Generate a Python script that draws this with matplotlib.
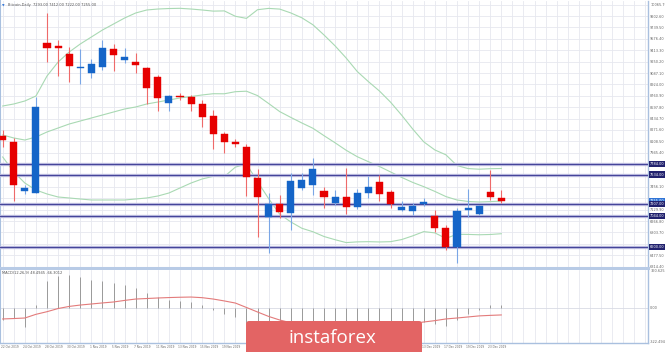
import matplotlib
matplotlib.use("Agg")
import matplotlib.pyplot as plt
import matplotlib.transforms as mtransforms
from matplotlib.patches import FancyBboxPatch
import numpy as np

# ---------------- data ----------------
title = "Bitcoin,Daily  7293.00 7412.00 7222.00 7255.00"
macd_title = "MACD(12,26,9) 48.4945 -66.3012"

dates = ["21 Oct", "22 Oct 2019", "23 Oct", "24 Oct 2019", "25 Oct", "28 Oct 2019", "29 Oct",
         "30 Oct 2019", "31 Oct", "1 Nov 2019", "4 Nov", "5 Nov 2019", "6 Nov", "7 Nov 2019",
         "8 Nov", "11 Nov 2019", "12 Nov", "13 Nov 2019", "14 Nov", "15 Nov 2019", "18 Nov",
         "19 Nov 2019", "20 Nov", "21 Nov 2019", "22 Nov", "25 Nov 2019", "26 Nov",
         "27 Nov 2019", "28 Nov", "29 Nov 2019", "2 Dec", "3 Dec 2019", "4 Dec", "5 Dec 2019",
         "6 Dec", "9 Dec 2019", "10 Dec", "11 Dec 2019", "12 Dec", "13 Dec 2019", "16 Dec",
         "17 Dec 2019", "18 Dec", "19 Dec 2019", "20 Dec", "23 Dec 2019"]

opens = [8185, 8104, 7402, 7369, 9522, 9479, 9355, 9155, 9092, 9178, 9431, 9278, 9250, 9164,
         9035, 8662, 8763, 8740, 8644, 8472, 8210, 8104, 8021, 7580, 7021, 7212, 7087, 7445,
         7484, 7402, 7230, 7316, 7164, 7365, 7527, 7388, 7126, 7112, 7207, 7040, 6864, 6600,
         7122, 7068, 7388, 7293]
highs = [8271, 8157, 7484, 8748, 9951, 9560, 9464, 9431, 9288, 9560, 9499, 9441, 9370, 9178,
         9059, 8773, 8797, 8773, 8701, 8558, 8243, 8138, 8071, 7713, 7365, 7341, 7651, 7651,
         7866, 7460, 7412, 7723, 7422, 7613, 7627, 7412, 7255, 7222, 7298, 7126, 6911, 7150,
         7422, 7197, 7699, 7412]
lows = [8028, 7255, 7355, 7362, 9250, 9045, 8963, 8930, 9012, 9131, 9116, 9227, 9083, 8644,
        8544, 8544, 8701, 8548, 8310, 7995, 7938, 8024, 7326, 6744, 6506, 7007, 6839, 7412,
        7341, 7150, 7197, 7068, 7136, 7293, 7259, 7150, 7116, 7054, 7183, 6815, 6553, 6371,
        7021, 7054, 7269, 7222]
closes = [8128, 7484, 7445, 8594, 9450, 9441, 9188, 9174, 9212, 9441, 9345, 9317, 9202, 8869,
          8734, 8758, 8744, 8644, 8453, 8210, 8095, 8075, 7598, 7316, 7207, 7101, 7541, 7555,
          7709, 7308, 7316, 7173, 7373, 7451, 7355, 7212, 7173, 7187, 7236, 6864, 6600, 7116,
          7150, 7187, 7308, 7255]

bb_upper = [8615, 8644, 8687, 8758, 9045, 9245, 9388, 9503, 9603, 9703, 9789, 9875, 9947, 9990,
            10004, 10011, 10014, 10004, 9990, 9974, 9977, 9900, 9870, 9994, 10013, 10003, 9948,
            9878, 9778, 9632, 9476, 9302, 9109, 8965, 8830, 8671, 8485, 8286, 8102, 7986, 7916,
            7762, 7719, 7710, 7717, 7720]
bb_middle = [8200, 8157, 8128, 8171, 8243, 8300, 8357, 8400, 8443, 8486, 8529, 8572, 8601, 8644,
             8672, 8701, 8730, 8751, 8773, 8791, 8790, 8820, 8827, 8764, 8651, 8535, 8452, 8372,
             8296, 8190, 8088, 7981, 7889, 7818, 7749, 7671, 7593, 7521, 7460, 7392, 7318, 7269,
             7248, 7240, 7246, 7253]
bb_lower = [7885, 7670, 7512, 7412, 7355, 7312, 7298, 7283, 7269, 7269, 7269, 7269, 7283, 7298,
            7326, 7369, 7441, 7512, 7570, 7608, 7603, 7740, 7784, 7532, 7289, 7066, 6955, 6864,
            6814, 6746, 6700, 6659, 6669, 6672, 6668, 6672, 6702, 6755, 6816, 6798, 6719, 6778,
            6776, 6771, 6775, 6786]

macd_hist = [-110, -95, -177, 28, 260, 300, 310, 290, 270, 260, 240, 215, 190, 140, 100, 80, 70,
             55, 30, -20, -60, -90, -150, -210, -260, -300, -280, -260, -230, -240, -240, -250,
             -230, -200, -190, -180, -150, -140, -130, -150, -170, -110, -60, -20, 25, 30]
macd_signal = [-104, -100, -95, -60, -35, -5, 15, 28, 38, 48, 57, 72, 85, 90, 95, 99, 102, 104,
               98, 85, 67, 47, 5, -38, -80, -114, -140, -160, -175, -185, -195, -200, -200,
               -195, -185, -175, -160, -145, -133, -120, -104, -95, -85, -75, -70, -66]

levels = [7784, 7634, 7207, 7044, 6600]
price_ticks = [10065.70, 9902.60, 9739.50, 9576.40, 9413.30, 9250.20, 9087.10, 8924.00,
               8760.90, 8597.80, 8434.70, 8271.60, 8108.50, 7945.40, 7782.30, 7619.20,
               7456.10, 7293.00, 7129.90, 6966.80, 6803.70, 6640.60, 6477.50, 6314.40]
macd_ticks = [360.625, 0.0]
macd_tick_labels = ["360.625", "0.00"]
macd_bottom_label = "-322.494"
logo_text = "instaforex"

# ---------------- layout helpers ----------------
W, H = 665, 352
fig = plt.figure(figsize=(W / 100, H / 100), dpi=100)
fig.patch.set_facecolor("white")


def fy(py):
    return 1 - py / H


AX_RIGHT = 648 / W
ax = fig.add_axes([0, fy(268), AX_RIGHT, fy(0.5) - fy(268)])
axm = fig.add_axes([0, fy(343), AX_RIGHT, fy(270) - fy(343)])

n = len(closes)
x = np.arange(n)
XMIN, XMAX = -0.244, 58.24
GRID = "#e6e8ef"
SPINE = "#a9c0df"
RED = "#e60000"
BLUE = "#1565c8"
TICK_FS = 2.5
LOGO_X0, LOGO_X1 = 246, 422

for a in (ax, axm):
    a.set_xlim(XMIN, XMAX)
    a.set_facecolor("white")
    for s in a.spines.values():
        s.set_visible(False)
    a.spines["right"].set_visible(True)
    a.spines["right"].set_color(SPINE)
    a.spines["right"].set_linewidth(1.0)
    a.spines["left"].set_visible(True)
    a.spines["left"].set_color(SPINE)
    a.spines["left"].set_linewidth(1.5)
    a.yaxis.tick_right()
    a.tick_params(axis="y", length=0, labelsize=TICK_FS, labelcolor="#666666", pad=1.6)
    a.set_axisbelow(True)
    for gx in np.arange(0, 59):
        a.axvline(gx, color=GRID, lw=0.6, zorder=0)

ax.spines["bottom"].set_visible(True)
ax.spines["bottom"].set_color("#b8cbe6")
ax.spines["bottom"].set_linewidth(2.2)
axm.spines["bottom"].set_visible(True)
axm.spines["bottom"].set_color(SPINE)
axm.spines["bottom"].set_linewidth(1.0)

# ---------------- main panel ----------------
ax.set_ylim(6295, 10126)
ax.set_yticks(price_ticks)
# tick labels covered by a level box in the reference are left blank
marks = levels + [closes[-1]]
ax.set_yticklabels(["" if min(abs(v - m) for m in marks) < 45 else f"{v:.2f}"
                    for v in price_ticks])
ax.set_xticks([])
ax.yaxis.grid(True, color=GRID, lw=0.6)

# Bollinger bands
for band in (bb_upper, bb_middle, bb_lower):
    ax.plot(x, band, color="#a9d9b3", lw=0.8, zorder=2)

# level lines
for lv in levels:
    ax.axhline(lv, color="#c7c7e6", lw=2.4, zorder=3)
    ax.axhline(lv, color="#45459a", lw=0.9, zorder=3)

# candles
for i in range(n):
    o, h, l, c = opens[i], highs[i], lows[i], closes[i]
    up = c >= o
    col = BLUE if up else RED
    wcol = "#7aa6e6" if up else "#ee6a6a"
    ax.vlines(i, l, h, color=wcol, lw=0.8, zorder=4)
    lo, hi = min(o, c), max(o, c)
    hgt = max(hi - lo, 22)
    ax.bar(i, hgt, bottom=(lo + hi) / 2 - hgt / 2, width=0.64, color=col,
           edgecolor=col, lw=0.3, zorder=5)

# right axis level labels
trans = mtransforms.blended_transform_factory(ax.transAxes, ax.transData)
ax.text(1.003, closes[-1], f"{closes[-1]:.2f}", transform=trans, fontsize=TICK_FS,
        color="white", va="center", ha="left", zorder=9, clip_on=False,
        bbox=dict(boxstyle="square,pad=0.3", fc="#2f74d6", ec="none"))
for lv in levels:
    ax.text(1.003, lv, f"{lv:.2f}", transform=trans, fontsize=TICK_FS, color="white",
            va="center", ha="left", zorder=10, clip_on=False,
            bbox=dict(boxstyle="square,pad=0.3", fc="#22226e", ec="none"))

ax.text(0.003, 0.99, "\u25bc", transform=ax.transAxes, fontsize=2.4, color="#2f74d6",
        va="top", ha="left")
ax.text(0.012, 0.99, title, transform=ax.transAxes, fontsize=2.6, color="#555555",
        va="top", ha="left")

# ---------------- MACD panel ----------------
axm.set_ylim(-332.2, 360.6)
axm.set_yticks(macd_ticks)
axm.set_yticklabels(macd_tick_labels)
axm.text(1.003, -322.494, macd_bottom_label,
         transform=mtransforms.blended_transform_factory(axm.transAxes, axm.transData),
         fontsize=TICK_FS, color="#666666", va="center", ha="left", clip_on=False)
axm.axhline(0, color="#d8dbe4", lw=0.6, zorder=1)
axm.vlines(x, 0, macd_hist, color="#9a9a9a", lw=0.7, zorder=3)
axm.plot(x, macd_signal, color="#e37b7b", lw=0.8, zorder=4)
axm.text(0.003, 0.985, macd_title, transform=axm.transAxes, fontsize=2.6, color="#555555",
         va="top", ha="left")


# date labels (those lying under the logo are hidden in the reference)
def idx_to_px(i):
    return (i - XMIN) / (XMAX - XMIN) * 648


label_idx = [i for i in range(n) if dates[i].endswith("2019")
             and not (LOGO_X0 - 8 < idx_to_px(i - 0.37) < LOGO_X1 + 2)]
axm.set_xticks([i - 0.37 for i in label_idx])
axm.set_xticklabels([dates[i] for i in label_idx])
axm.tick_params(axis="x", length=0, labelsize=2.1, labelcolor="#666666", pad=1.6)

# ---------------- logo ----------------
logo_ax = fig.add_axes([0, 0, 1, 1], facecolor="none")
logo_ax.set_xlim(0, W)
logo_ax.set_ylim(H, 0)
logo_ax.axis("off")
logo_ax.add_patch(FancyBboxPatch((LOGO_X0, 321), LOGO_X1 - LOGO_X0, 40,
                                 boxstyle="round,pad=0,rounding_size=3",
                                 fc="#e36464", ec="none", zorder=20))
logo_ax.text(289, 343, logo_text, fontsize=13.5, color="white", family="Open Sans",
             ha="left", va="baseline", zorder=21)

fig.savefig("out.png", dpi=100, facecolor="white")
